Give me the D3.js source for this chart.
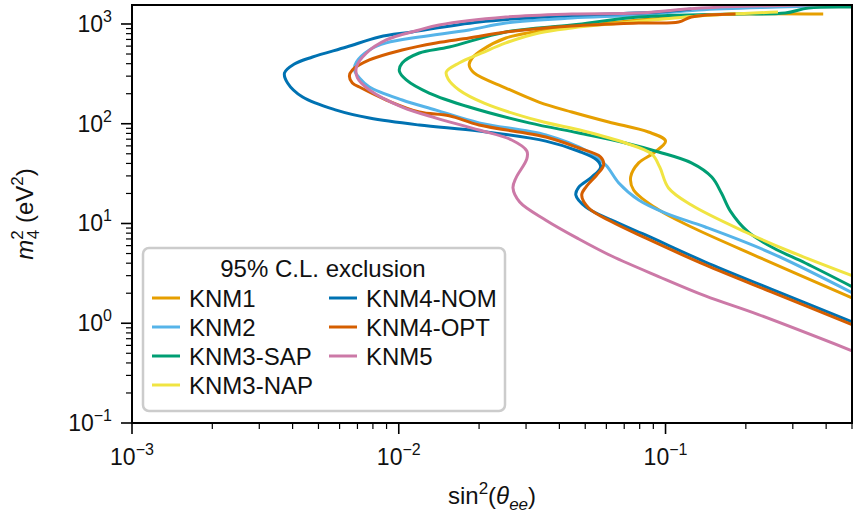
<!DOCTYPE html>
<html>
<head>
<meta charset="utf-8">
<script src="https://cdn.jsdelivr.net/npm/d3@7"></script>
<style>
  html, body { margin: 0; padding: 0; background: #fff; }
  svg { display: block; font-family: "Liberation Sans", Arial, Helvetica, sans-serif; }
</style>
</head>
<body>
<svg id="chart" width="863" height="513"></svg>
<script>
// ---- Data: [sin^2(theta_ee), m4^2 (eV^2)] contour points ----
const knm1 = [[0.390,1259],[0.188,1259],[0.122,1203],[0.0793,1096],[0.0445,933],[0.0335,851],[0.0252,724],[0.0205,549],[0.01884,456],[0.01836,388],[0.01915,323],[0.0252,228],[0.0335,165],[0.0445,131],[0.0612,104],[0.0863,82.6],[0.100,67.1],[0.0902,50.9],[0.0793,40.5],[0.0740,29.2],[0.0759,21.7],[0.0942,13.7],[0.125,9.22],[0.223,4.61],[0.50,1.80]];
const knm2 = [[0.50,1550],[0.264,1479],[0.133,1380],[0.0793,1230],[0.0445,1148],[0.0252,1023],[0.01836,871],[0.01194,741],[0.00898,646],[0.00776,549],[0.00694,416],[0.00682,346],[0.00712,288],[0.00776,234],[0.0103,173],[0.0138,137],[0.0200,102],[0.0356,77.1],[0.0515,52.1],[0.0597,38.6],[0.0668,25.5],[0.0793,17.2],[0.100,12.7],[0.141,9.22],[0.249,5.06],[0.50,2.03]];
const knm3sap = [[0.50,1479],[0.343,1445],[0.281,1288],[0.183,1259],[0.0793,1175],[0.0445,977],[0.0252,832],[0.01545,588],[0.01194,512],[0.0103,406],[0.01005,338],[0.01067,275],[0.0130,203],[0.01836,147],[0.0308,102],[0.0473,80.7],[0.0708,64.1],[0.0942,52.1],[0.125,40.5],[0.149,29.2],[0.162,20.2],[0.175,13.3],[0.204,8.22],[0.254,5.68],[0.334,4.02],[0.50,2.33]];
const knm3nap = [[0.264,1319],[0.133,1203],[0.0686,1023],[0.0445,912],[0.0335,813],[0.0252,646],[0.0205,512],[0.01683,406],[0.01507,330],[0.01531,281],[0.01683,218],[0.0209,161],[0.0335,107],[0.0493,84.5],[0.0708,64.1],[0.0887,49.8],[0.0951,36.8],[0.1026,22.7],[0.125,15.3],[0.199,8.22],[0.296,5.18],[0.50,3.00]];
const knm4nom = [[0.125,1413],[0.0942,1319],[0.0398,1203],[0.0200,1047],[0.01122,832],[0.00845,741],[0.00637,588],[0.00475,467],[0.00406,397],[0.00373,323],[0.00383,256],[0.00436,185],[0.00583,137],[0.00776,114],[0.01194,97],[0.0200,84.5],[0.0356,67],[0.0473,53],[0.0552,43.4],[0.0571,36.8],[0.0529,29.2],[0.0473,23.2],[0.0461,19.3],[0.0503,14.6],[0.0628,10.8],[0.0841,7.67],[0.141,4.11],[0.249,2.2],[0.50,1.03]];
const knm4opt = [[0.183,1259],[0.125,1175],[0.112,1047],[0.0793,1023],[0.0445,955],[0.0252,832],[0.01836,724],[0.0138,646],[0.0103,549],[0.00776,436],[0.0067,346],[0.00653,301],[0.0067,256],[0.00724,228],[0.00898,173],[0.01194,131],[0.01545,120],[0.0200,97],[0.0356,73.6],[0.0473,57.1],[0.0571,46.4],[0.0586,38.6],[0.0552,30.6],[0.0503,23.2],[0.0485,19.3],[0.0515,14.3],[0.0628,10.4],[0.0841,7.16],[0.141,3.84],[0.249,2.06],[0.50,0.97]];
const knm5 = [[0.50,1585],[0.136,1445],[0.0793,1288],[0.0445,1259],[0.0252,1175],[0.01416,977],[0.01194,871],[0.00898,692],[0.00757,512],[0.00694,371],[0.00700,288],[0.00776,218],[0.0103,147],[0.0138,114],[0.0200,86.5],[0.0265,68.7],[0.0302,53.3],[0.0302,44.4],[0.0275,28.6],[0.0268,22.7],[0.0284,16.4],[0.0356,10.8],[0.0473,7.0],[0.0628,4.72],[0.0942,2.94],[0.141,1.88],[0.223,1.22],[0.50,0.53]];

const seriesNames = ["KNM1","KNM2","KNM3-SAP","KNM3-NAP","KNM4-NOM","KNM4-OPT","KNM5"];
const seriesData = [knm1, knm2, knm3sap, knm3nap, knm4nom, knm4opt, knm5];
const seriesColors = ["#E69F00","#56B4E9","#009E73","#F0E442","#0072B2","#D55E00","#CC79A7"];

const xMajorTicks = [1e-3, 1e-2, 1e-1];
const xMajorExp = ["−3","−2","−1"];
const yMajorTicks = [1e-1, 1e0, 1e1, 1e2, 1e3];
const yMajorExp = ["−1","0","1","2","3"];
const legendTitle = "95% C.L. exclusion";

// ---- Layout ----
const W = 863, H = 513;
const L = 132, R = 852, T = 5, B = 423;
const FONT = 23, SUP = 16, LEGFONT = 24;

const svg = d3.select("#chart");
const x = d3.scaleLog().domain([1e-3, 0.5]).range([L, R]);
const y = d3.scaleLog().domain([0.1, 1550]).range([B, T]);

function minorTicks(domain) {
  const out = [];
  for (let e = -4; e <= 4; e++) {
    for (let m = 2; m <= 9; m++) {
      const v = m * Math.pow(10, e);
      if (v >= domain[0] * 0.9999 && v <= domain[1] * 1.0001) out.push(v);
    }
  }
  return out;
}

svg.append("defs").append("clipPath").attr("id", "clip")
  .append("rect").attr("x", L).attr("y", T).attr("width", R - L).attr("height", B - T);

// Curves
const line = d3.line().x(d => x(d[0])).y(d => y(d[1])).curve(d3.curveCatmullRom.alpha(0.5));
const gCurves = svg.append("g").attr("clip-path", "url(#clip)");
seriesData.forEach((data, i) => {
  gCurves.append("path").datum(data)
    .attr("d", line)
    .attr("fill", "none")
    .attr("stroke", seriesColors[i])
    .attr("stroke-width", 3)
    .attr("stroke-linejoin", "round")
    .attr("stroke-linecap", "butt");
});

// Axes (ticks)
const gAx = svg.append("g");
xMajorTicks.forEach((v, i) => {
  const px = x(v);
  gAx.append("line").attr("x1", px).attr("x2", px).attr("y1", B).attr("y2", B + 11)
    .attr("stroke", "#000").attr("stroke-width", 1.6);
  const t = gAx.append("text").attr("x", px).attr("y", B + 42)
    .attr("text-anchor", "middle").attr("font-size", FONT).attr("fill", "#111");
  t.append("tspan").text("10");
  t.append("tspan").attr("dy", -10).attr("font-size", SUP).text(xMajorExp[i]);
});
minorTicks(x.domain()).forEach(v => {
  const px = x(v);
  gAx.append("line").attr("x1", px).attr("x2", px).attr("y1", B).attr("y2", B + 6)
    .attr("stroke", "#000").attr("stroke-width", 1.2);
});
yMajorTicks.forEach((v, i) => {
  const py = y(v);
  gAx.append("line").attr("x1", L - 11).attr("x2", L).attr("y1", py).attr("y2", py)
    .attr("stroke", "#000").attr("stroke-width", 1.6);
  const t = gAx.append("text").attr("x", L - 20).attr("y", py + 8)
    .attr("text-anchor", "end").attr("font-size", FONT).attr("fill", "#111");
  t.append("tspan").text("10");
  t.append("tspan").attr("dy", -10).attr("font-size", SUP).text(yMajorExp[i]);
});
minorTicks(y.domain()).forEach(v => {
  const py = y(v);
  gAx.append("line").attr("x1", L - 6).attr("x2", L).attr("y1", py).attr("y2", py)
    .attr("stroke", "#000").attr("stroke-width", 1.2);
});

// Frame
svg.append("rect").attr("x", L).attr("y", T).attr("width", R - L).attr("height", B - T)
  .attr("fill", "none").attr("stroke", "#000").attr("stroke-width", 2);

// Axis titles
const xt = svg.append("text").attr("x", (L + R) / 2).attr("y", 504)
  .attr("text-anchor", "middle").attr("font-size", FONT + 1).attr("fill", "#111");
xt.append("tspan").text("sin");
xt.append("tspan").attr("dy", -10).attr("font-size", SUP + 1).text("2");
xt.append("tspan").attr("dy", 10).text("(");
xt.append("tspan").attr("font-style", "italic").text("θ");
xt.append("tspan").attr("dy", 6).attr("font-size", SUP + 1).attr("font-style", "italic").text("ee");
xt.append("tspan").attr("dy", -6).text(")");

const yt = svg.append("text").attr("transform", `translate(33,${(T + B) / 2}) rotate(-90)`)
  .attr("text-anchor", "middle").attr("font-size", FONT + 1).attr("fill", "#111");
yt.append("tspan").attr("font-style", "italic").text("m");
yt.append("tspan").attr("dy", -10).attr("font-size", SUP + 1).text("2");
yt.append("tspan").attr("dx", -9).attr("dy", 16).attr("font-size", SUP + 1).text("4");
yt.append("tspan").attr("dy", -6).text(" (eV");
yt.append("tspan").attr("dy", -10).attr("font-size", SUP + 1).text("2");
yt.append("tspan").attr("dy", 10).text(")");

// Legend
const lg = svg.append("g");
lg.append("rect").attr("x", 143).attr("y", 248).attr("width", 362).attr("height", 163)
  .attr("rx", 6).attr("fill", "#fff").attr("fill-opacity", 0.85)
  .attr("stroke", "#cccccc").attr("stroke-width", 2.5);
lg.append("text").attr("x", 323).attr("y", 277).attr("text-anchor", "middle")
  .attr("font-size", LEGFONT).attr("fill", "#111").text(legendTitle);
const rowY = [298, 327, 356, 385];
seriesNames.forEach((name, i) => {
  const col = i < 4 ? 0 : 1;
  const row = i < 4 ? i : i - 4;
  const lx = col === 0 ? 152 : 329;
  const cy = rowY[row];
  lg.append("line").attr("x1", lx).attr("x2", lx + 28).attr("y1", cy).attr("y2", cy)
    .attr("stroke", seriesColors[i]).attr("stroke-width", 3);
  lg.append("text").attr("x", lx + 37).attr("y", cy + 8.5)
    .attr("font-size", LEGFONT).attr("fill", "#111").text(name);
});
</script>
</body>
</html>
